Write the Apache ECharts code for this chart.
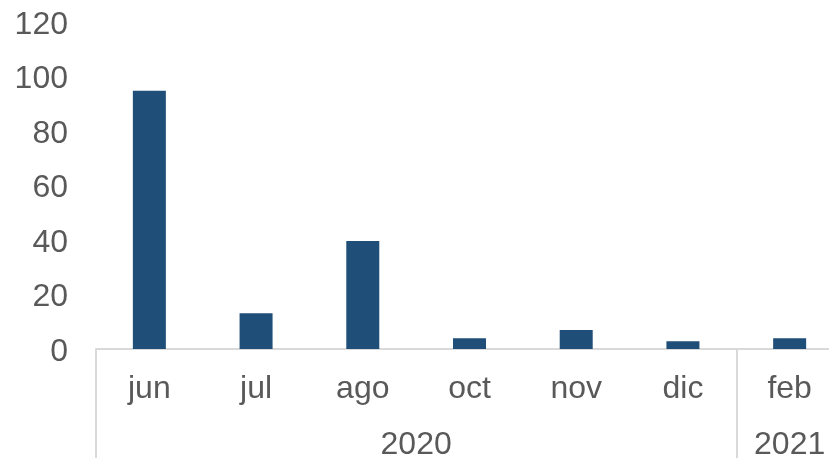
<!DOCTYPE html>
<html>
<head>
<meta charset="utf-8">
<script src="https://cdn.jsdelivr.net/npm/echarts@6/dist/echarts.min.js"></script>
<style>html,body{margin:0;padding:0;background:#fff;}#c{width:829px;height:458px;}</style>
</head>
<body>
<div id="c"></div>
<script>
var months = ['jun', 'jul', 'ago', 'oct', 'nov', 'dic', 'feb'];
var values = [94.8, 13.1, 39.6, 3.9, 7.0, 2.8, 3.9];
var years = ['2020', '2021'];
var yearSpans = [6, 1];
var yTicks = [0, 20, 40, 60, 80, 100, 120];

// group boundaries and centres (in category units) from the year spans
var bounds = [0], centres = [];
var acc = 0;
yearSpans.forEach(function (s) { centres.push(acc + s / 2); acc += s; bounds.push(acc); });

var font = 'Liberation Sans, Arial, sans-serif';
var txt = '#595959';
var chart = echarts.init(document.getElementById('c'), null, {renderer: 'canvas'});
chart.setOption({
  animation: false,
  grid: {left: 96, top: 22, width: 747, height: 327, containLabel: false, outerBoundsMode: 'none'},
  xAxis: [{
    type: 'category',
    data: months,
    position: 'bottom',
    axisLine: {show: true, lineStyle: {color: '#d9d9d9', width: 2}},
    axisTick: {show: false},
    axisLabel: {color: txt, fontSize: 32, fontFamily: font, margin: 24}
  }, {
    type: 'value',
    min: 0,
    max: months.length,
    position: 'bottom',
    axisLine: {show: false},
    splitLine: {show: false},
    axisTick: {show: true, customValues: bounds, length: 115, lineStyle: {color: '#d9d9d9', width: 2}},
    axisLabel: {
      show: true, customValues: centres, color: txt, fontSize: 32, fontFamily: font, margin: 80,
      formatter: function (v) { var i = centres.indexOf(v); return i >= 0 ? years[i] : ''; }
    }
  }],
  yAxis: {
    type: 'value',
    min: yTicks[0],
    max: yTicks[yTicks.length - 1],
    interval: 20,
    axisLine: {show: false},
    axisTick: {show: false},
    splitLine: {show: false},
    axisLabel: {
      margin: 28,
      formatter: function (v) { return '{a|' + v + '}'; },
      rich: {a: {color: txt, fontSize: 32, fontFamily: font, padding: [6, 0, 0, 0], lineHeight: 32}}
    }
  },
  series: [{
    type: 'bar',
    xAxisIndex: 0,
    data: values,
    barWidth: 33,
    itemStyle: {color: '#1f4e79'}
  }]
});
</script>
</body>
</html>
